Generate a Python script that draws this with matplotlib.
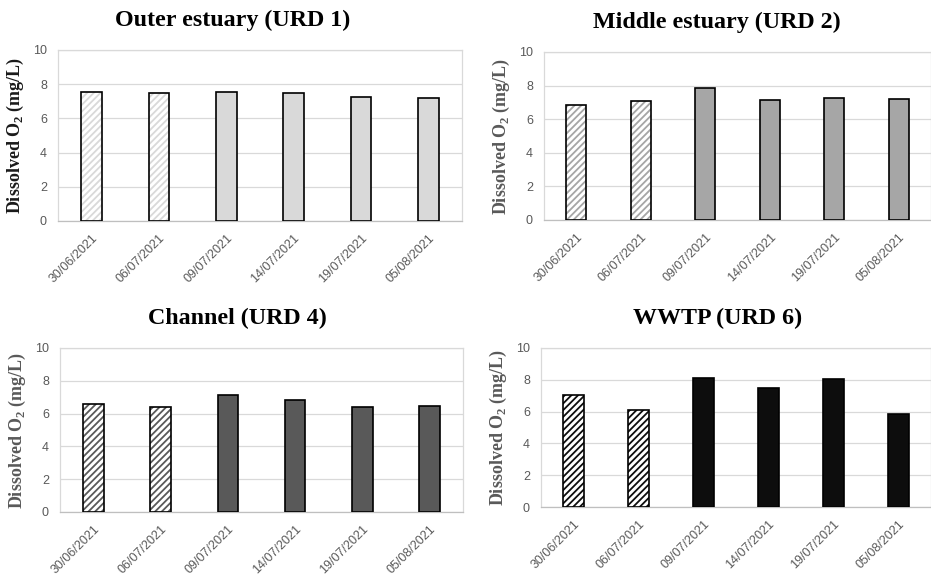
import numpy as np
import matplotlib
matplotlib.use("Agg")
import matplotlib.pyplot as plt

dates = ["30/06/2021", "06/07/2021", "09/07/2021", "14/07/2021", "19/07/2021", "05/08/2021"]

# dissolved oxygen per site (mg/L)
urd1 = [7.56, 7.49, 7.52, 7.49, 7.27, 7.17]
urd2 = [6.87, 7.10, 7.86, 7.14, 7.26, 7.22]
urd4 = [6.59, 6.38, 7.15, 6.85, 6.42, 6.48]
urd6 = [7.04, 6.09, 8.09, 7.50, 8.03, 5.84]

titles = ["Outer estuary (URD 1)", "Middle estuary (URD 2)", "Channel (URD 4)", "WWTP (URD 6)"]
series = [urd1, urd2, urd4, urd6]
fills = ["#d9d9d9", "#a6a6a6", "#595959", "#0d0d0d"]
label_cols = ["#1a1a1a", "#595959", "#595959", "#595959"]
n_hatched = 2

# axes rectangles in pixels: left, top, right, bottom
W, H = 931, 579
boxes = [(58, 50, 462, 221), (544, 52, 931, 220), (60, 348, 463, 512), (541, 348, 931, 507)]
title_pos = [(233, 20), (717, 22), (237, 318), (718, 318)]

fig = plt.figure(figsize=(W / 100, H / 100), dpi=100)
plt.rcParams['hatch.linewidth'] = 1.3

x = np.arange(len(dates))
for i in range(4):
    l, t, r, b = boxes[i]
    ax = fig.add_axes([l / W, 1 - b / H, (r - l) / W, (b - t) / H])
    vals = series[i]
    col = fills[i]
    # hatched bars for the first visits, solid fill afterwards
    ax.bar(x[:n_hatched], vals[:n_hatched], width=0.31, color="white", edgecolor=col,
           hatch="/////", linewidth=0, zorder=2)
    ax.bar(x[n_hatched:], vals[n_hatched:], width=0.31, color=col, linewidth=0, zorder=2)
    ax.bar(x, vals, width=0.31, fill=False, edgecolor="black", linewidth=1.2, zorder=3)

    ax.set_xlim(-0.5, len(dates) - 0.5)
    ax.set_ylim(0, 10)
    ax.set_yticks([0, 2, 4, 6, 8, 10])
    ax.grid(axis="y", color="#d9d9d9", linewidth=0.9, zorder=0)
    ax.set_axisbelow(True)
    for s in ax.spines.values():
        s.set_color("#d9d9d9")
        s.set_linewidth(0.9)
    ax.spines["bottom"].set_color("#bfbfbf")
    ax.tick_params(length=0, colors="#595959", labelsize=9, pad=8)
    ax.set_xticks(x)
    ax.set_xticklabels(dates, rotation=45, ha="right", rotation_mode="anchor", family="Liberation Sans")
    for lab in ax.get_yticklabels():
        lab.set_family("Liberation Sans")
    ax.set_ylabel(r"Dissolved O$_\mathregular{2}$ (mg/L)", family="Liberation Serif", fontweight="bold",
                  fontsize=13, color=label_cols[i], labelpad=5)

    tx, ty = title_pos[i]
    fig.text(tx / W, 1 - ty / H, titles[i], ha="center", va="center", family="Liberation Serif",
             fontweight="bold", fontsize=17.3, color="black")

fig.savefig("out.png", dpi=100)
